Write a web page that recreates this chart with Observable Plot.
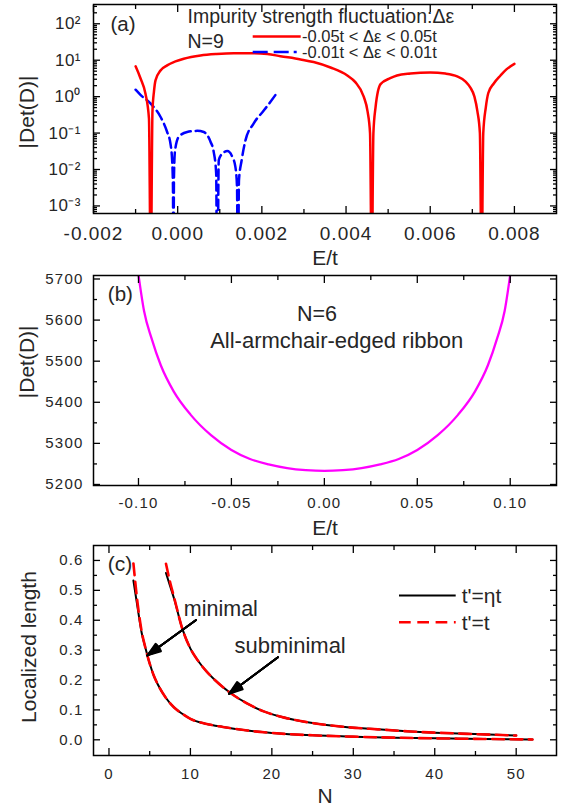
<!DOCTYPE html>
<html>
<head>
<meta charset="utf-8">
<script src="https://cdn.jsdelivr.net/npm/d3@7"></script>
<script src="https://cdn.jsdelivr.net/npm/@observablehq/plot@0.6"></script>
<style>
  body { margin: 0; background: #fff; }
  #fig { position: relative; width: 564px; height: 807px; font-family: "Liberation Sans", Arial, Helvetica, sans-serif; color: #262626; }
  .panel { position: absolute; left: 0; }
  .panel svg { overflow: visible; }
  .pa g[aria-label="x-axis tick label"] { letter-spacing: 1px; }
  .pa g[aria-label="y-axis tick label"] { letter-spacing: 0.5px; }
  .pb g[aria-label="x-axis tick label"], .pb g[aria-label="y-axis tick label"] { letter-spacing: 1.2px; }
  .pc g[aria-label="x-axis tick label"], .pc g[aria-label="y-axis tick label"] { letter-spacing: 1.1px; }
  #overlay { position: absolute; left: 0; top: 0; pointer-events: none; }
</style>
</head>
<body>
<div id="fig"></div>
<script>
// ---------------- Panel (a): |Det(D)| vs E/t, N=9 ----------------
const redE = [-0.00100, -0.000884, -0.000765, -0.000682, -0.00064, -0.000599, -0.000563, -0.000527, -0.000409, -0.00025,
  -0.000052, 0.000145, 0.000542, 0.00092, 0.00133, 0.00173, 0.00213, 0.00244, 0.00292, 0.00323,
  0.00363, 0.00403, 0.00422, 0.00442, 0.00451, 0.00457, 0.00461, 0.00465, 0.0047, 0.00482,
  0.00505, 0.00521, 0.00553, 0.006, 0.00636, 0.00664, 0.00684, 0.00695, 0.00705, 0.00712,
  0.00718, 0.00722, 0.00726, 0.00732, 0.00738, 0.00751, 0.00767, 0.00781, 0.0080];
const redDet = [6.8, 3.2, 1.2, 0.25, 1e-5, 0.4, 1.4, 2.8, 5.2, 7.2,
  9.3, 11, 13.5, 14.8, 15.5, 15.5, 14.8, 12.9, 10.5, 8.9,
  6.3, 3.8, 2.5, 1.0, 0.4, 0.1, 1e-5, 0.1, 0.5, 2.2,
  3.2, 3.8, 4.3, 4.6, 4.3, 3.6, 2.6, 1.8, 1.0, 0.4,
  0.1, 1e-5, 0.1, 0.5, 1.26, 2.3, 3.8, 5.6, 7.9];

const blueE = [-0.00100, -0.000884, -0.000646, -0.000409, -0.00025, -0.000171, -0.00013, -0.000112, -0.000102, -0.000088,
  -0.000064, 0.000026, 0.000226, 0.000463, 0.00062, 0.00078, 0.000857, 0.000914, 0.00094, 0.000976,
  0.00104, 0.0011, 0.00118, 0.0013, 0.00137, 0.00141, 0.00143, 0.001456, 0.00152, 0.00161,
  0.0018, 0.00205, 0.00232];
const blueDet = [1.55, 1.12, 0.65, 0.28, 0.107, 0.051, 0.016, 0.0032, 1e-6, 0.0063,
  0.032, 0.079, 0.107, 0.115, 0.107, 0.058, 0.030, 0.008, 1e-6, 0.018,
  0.026, 0.030, 0.032, 0.022, 0.012, 0.0033, 1e-6, 0.005, 0.018, 0.063,
  0.18, 0.42, 1.1];

const xTicksA = [-0.002, 0, 0.002, 0.004, 0.006, 0.008];
const xMinorA = [-0.001, 0.001, 0.003, 0.005, 0.007];
const yTicksA = [1e-3, 1e-2, 1e-1, 1, 10, 100];
const yTickLabelsA = ["10\u207B\u00B3", "10\u207B\u00B2", "10\u207B\u00B9", "10\u2070", "10\u00B9", "10\u00B2"];
const yDomainA = [6.2e-4, 338];
const yMinorA = [1e-4, 1e-3, 1e-2, 1e-1, 1, 10, 100]
  .flatMap(d => [2, 3, 4, 5, 6, 7, 8, 9].map(k => k * d))
  .filter(v => v > yDomainA[0] && v < yDomainA[1]);

// ---------------- Panel (b): |Det(D)| vs E/t, N=6 armchair ----------------
const ribbonE = [-0.1, -0.097, -0.093, -0.088, -0.081, -0.072, -0.061, -0.05, -0.04, -0.03, -0.02, -0.01, 0,
  0.01, 0.02, 0.03, 0.04, 0.05, 0.061, 0.072, 0.081, 0.088, 0.093, 0.097, 0.1];
const ribbonDet = [5710, 5622, 5556, 5490, 5426, 5370, 5320, 5284, 5262, 5249, 5240, 5235, 5233,
  5235, 5240, 5249, 5262, 5284, 5320, 5370, 5426, 5490, 5556, 5622, 5710];
const xTicksB = [-0.1, -0.05, 0, 0.05, 0.1];
const xMinorB = [-0.075, -0.025, 0.025, 0.075];
const yTicksB = [5200, 5300, 5400, 5500, 5600, 5700];
const yMinorB = [5250, 5350, 5450, 5550, 5650];

// ---------------- Panel (c): localized length vs N ----------------
const minimalN = [3, 3.5, 4, 4.5, 5, 5.5, 6, 7, 8, 9, 10, 12, 14, 17, 20, 25, 30, 35, 40, 46, 52];
const minimalEta = [0.533, 0.445, 0.36, 0.305, 0.255, 0.215, 0.185, 0.14, 0.108, 0.087, 0.07, 0.053, 0.043, 0.031, 0.023, 0.015, 0.0105, 0.0072, 0.0048, 0.0028, 0.0012];
const minimalT = [0.59, 0.46, 0.365, 0.305, 0.255, 0.215, 0.185, 0.14, 0.108, 0.087, 0.07, 0.053, 0.043, 0.031, 0.023, 0.015, 0.0105, 0.0072, 0.0048, 0.0028, 0.0012];
const subminN = [7, 7.5, 8, 9, 10, 11, 12, 13, 15, 17, 19, 21, 25, 29, 33, 37, 40, 44, 50];
const subminEta = [0.558, 0.515, 0.472, 0.372, 0.305, 0.262, 0.228, 0.2, 0.155, 0.121, 0.095, 0.078, 0.056, 0.043, 0.035, 0.028, 0.024, 0.020, 0.0144];
const subminT = [0.589, 0.528, 0.476, 0.372, 0.305, 0.262, 0.228, 0.2, 0.155, 0.121, 0.095, 0.078, 0.056, 0.043, 0.035, 0.028, 0.024, 0.020, 0.0144];
const xTicksC = [0, 10, 20, 30, 40, 50];
const xMinorC = [5, 15, 25, 35, 45];
const yTicksC = [0, 0.1, 0.2, 0.3, 0.4, 0.5, 0.6];
const yMinorC = [0.05, 0.15, 0.25, 0.35, 0.45, 0.55];
// annotation arrows: from label toward curve point (data units)
const arrowsC = [
  {N1: 10.7, L1: 0.401, N2: 4.7, L2: 0.282},
  {N1: 20.75, L1: 0.276, N2: 14.74, L2: 0.154}
];

// ---------------- helpers ----------------
const FONT = '"Liberation Sans", Arial, Helvetica, sans-serif';
const TXT = "#262626";
const rows = (xs, ys, kx, ky) => xs.map((v, i) => ({[kx]: v, [ky]: ys[i]}));

function frameTicks(xMajor, xMinor, yMajor, yMinor) {
  const t = {stroke: "black", strokeWidth: 1.3, fill: "none", label: null};
  const M = 7, m = 4;
  return [
    Plot.axisX({...t, ticks: xMajor, anchor: "bottom", tickSize: -M}),
    Plot.axisX({...t, ticks: xMinor, anchor: "bottom", tickSize: -m}),
    Plot.axisX({...t, ticks: xMajor, anchor: "top", tickSize: -M}),
    Plot.axisX({...t, ticks: xMinor, anchor: "top", tickSize: -m}),
    Plot.axisY({...t, ticks: yMajor, anchor: "left", tickSize: -M}),
    Plot.axisY({...t, ticks: yMinor, anchor: "left", tickSize: -m}),
    Plot.axisY({...t, ticks: yMajor, anchor: "right", tickSize: -M}),
    Plot.axisY({...t, ticks: yMinor, anchor: "right", tickSize: -m})
  ];
}
const label = (s, o) => Plot.text([s], {text: d => d, fill: TXT, lineAnchor: "middle", textAnchor: "middle", ...o});

const fig = document.getElementById("fig");
function place(svg, top) {
  const div = document.createElement("div");
  div.className = "panel";
  div.style.top = top + "px";
  div.appendChild(svg);
  fig.appendChild(div);
}

// ---------------- Panel (a) ----------------
const pa = Plot.plot({
  width: 564, height: 270,
  marginTop: 4, marginBottom: 57, marginLeft: 93, marginRight: 8,
  className: "pa",
  style: {fontFamily: FONT, color: TXT, background: "transparent", overflow: "visible"},
  x: {domain: [-0.002, 0.009]},
  y: {type: "log", domain: yDomainA},
  marks: [
    Plot.line(rows(blueE, blueDet, "E", "D"), {x: "E", y: "D", stroke: "#0000ff", strokeWidth: 2.5, strokeDasharray: "10,5", curve: "monotone-x", clip: true}),
    Plot.line(rows(redE, redDet, "E", "D"), {x: "E", y: "D", stroke: "#ff0000", strokeWidth: 2.5, curve: "monotone-x", clip: true}),
    Plot.frame({stroke: "black", strokeWidth: 1.5}),
    ...frameTicks(xTicksA, xMinorA, yTicksA, yMinorA),
    Plot.axisX({ticks: xTicksA, anchor: "bottom", tickSize: 0, tickPadding: 13, tickFormat: d => d.toFixed(3), fontSize: 19, label: null}),
    Plot.axisY({ticks: yTicksA, anchor: "left", tickSize: 0, tickPadding: 12.5, tickFormat: d => yTickLabelsA[yTicksA.indexOf(d)], fontSize: 17, label: null}),
    label("|Det(D)|", {frameAnchor: "left", dx: -66, dy: 3, rotate: -90, fontSize: 21}),
    label("E/t", {frameAnchor: "bottom", dy: 45, fontSize: 21}),
    label("(a)", {frameAnchor: "top-left", textAnchor: "start", dx: 17, dy: 20, fontSize: 20.5}),
    label("Impurity strength fluctuation:\u0394\u03B5", {frameAnchor: "top-left", textAnchor: "start", dx: 94, dy: 12.7, fontSize: 19.5}),
    label("N=9", {frameAnchor: "top-left", textAnchor: "start", dx: 94, dy: 37.7, fontSize: 19.5})
  ]
});
place(pa, 0);

// ---------------- Panel (b) ----------------
const pb = Plot.plot({
  width: 564, height: 270,
  marginTop: 5, marginBottom: 55, marginLeft: 93, marginRight: 8,
  className: "pb",
  style: {fontFamily: FONT, color: TXT, background: "transparent", overflow: "visible"},
  x: {domain: [-0.1242, 0.1249]},
  y: {domain: [5197.5, 5708.5]},
  marks: [
    Plot.line(rows(ribbonE, ribbonDet, "E", "D"), {x: "E", y: "D", stroke: "#ff00ff", strokeWidth: 2.3, curve: "monotone-x", clip: true}),
    Plot.frame({stroke: "black", strokeWidth: 1.5}),
    ...frameTicks(xTicksB, xMinorB, yTicksB, yMinorB),
    Plot.axisX({ticks: xTicksB, anchor: "bottom", tickSize: 0, tickPadding: 11.5, tickFormat: d => d.toFixed(2), fontSize: 15, label: null}),
    Plot.axisY({ticks: yTicksB, anchor: "left", tickSize: 0, tickPadding: 10, tickFormat: d => String(d), fontSize: 15, label: null}),
    label("|Det(D)|", {frameAnchor: "left", dx: -66.3, dy: -18.7, rotate: -90, fontSize: 21}),
    label("E/t", {frameAnchor: "bottom", dy: 43, fontSize: 21}),
    label("(b)", {frameAnchor: "top-left", textAnchor: "start", dx: 14.3, dy: 19.3, fontSize: 20.5}),
    label("N=6", {frameAnchor: "top", dx: -8, dy: 38.3, fontSize: 21.5}),
    label("All-armchair-edged ribbon", {frameAnchor: "top", dx: 11.7, dy: 65, fontSize: 22})
  ]
});
place(pb, 270);

// ---------------- Panel (c) ----------------
const headAngles = [6, 14, 22, 30, 38];
const pc = Plot.plot({
  width: 564, height: 267,
  marginTop: 5, marginBottom: 52, marginLeft: 93, marginRight: 8,
  className: "pc",
  style: {fontFamily: FONT, color: TXT, background: "transparent", overflow: "visible"},
  x: {domain: [-1.9, 54.95]},
  y: {domain: [-0.0525, 0.65]},
  marks: [
    Plot.line(rows(minimalN, minimalEta, "N", "L"), {x: "N", y: "L", stroke: "black", strokeWidth: 2, curve: "monotone-x", clip: true}),
    Plot.line(rows(subminN, subminEta, "N", "L"), {x: "N", y: "L", stroke: "black", strokeWidth: 2, curve: "monotone-x", clip: true}),
    Plot.line(rows(minimalN, minimalT, "N", "L"), {x: "N", y: "L", stroke: "#ff0000", strokeWidth: 2.6, strokeDasharray: "11.7,6.6", curve: "monotone-x", clip: true}),
    Plot.line(rows(subminN, subminT, "N", "L"), {x: "N", y: "L", stroke: "#ff0000", strokeWidth: 2.6, strokeDasharray: "11.7,6.6", curve: "monotone-x", clip: true}),
    ...headAngles.map(a => Plot.arrow(arrowsC, {x1: "N1", y1: "L1", x2: "N2", y2: "L2", stroke: "black", strokeWidth: 1.8, headLength: 12, headAngle: a})),
    Plot.frame({stroke: "black", strokeWidth: 1.5}),
    ...frameTicks(xTicksC, xMinorC, yTicksC, yMinorC),
    Plot.axisX({ticks: xTicksC, anchor: "bottom", tickSize: 0, tickPadding: 12.6, tickFormat: d => String(d), fontSize: 15, label: null}),
    Plot.axisY({ticks: yTicksC, anchor: "left", tickSize: 0, tickPadding: 10, tickFormat: d => d.toFixed(1), fontSize: 15, label: null}),
    label("Localized length", {frameAnchor: "left", dx: -64, dy: -3.5, rotate: -90, fontSize: 21}),
    label("N", {frameAnchor: "bottom", dy: 40.7, fontSize: 21}),
    label("(c)", {frameAnchor: "top-left", textAnchor: "start", dx: 14.3, dy: 18.3, fontSize: 21}),
    label("minimal", {frameAnchor: "top-left", textAnchor: "start", dx: 90.3, dy: 63.3, fontSize: 21.5}),
    label("subminimal", {frameAnchor: "top-left", textAnchor: "start", dx: 141, dy: 100, fontSize: 22})
  ]
});
place(pc, 540);

// ---------------- Legends (overlay) ----------------
const legendA = [
  {text: "-0.05t < \u0394\u03B5 < 0.05t", color: "#ff0000", dash: null, width: 2.5},
  {text: "-0.01t < \u0394\u03B5 < 0.01t", color: "#0000ff", dash: "15,6,15,5,3,6", width: 2.5}
];
const legendC = [
  {text: "t'=\u03B7t", color: "black", dash: null, width: 2.2},
  {text: "t'=t", color: "#ff0000", dash: "11.7,6.6", width: 2.6}
];
const ov = d3.select("#fig").append("svg").attr("id", "overlay").attr("width", 564).attr("height", 807)
  .style("font-family", FONT);
function drawLegend(items, x0, x1, tx, ys, fs) {
  items.forEach((it, i) => {
    ov.append("line").attr("x1", x0).attr("x2", x1).attr("y1", ys[i]).attr("y2", ys[i])
      .attr("stroke", it.color).attr("stroke-width", it.width).attr("stroke-dasharray", it.dash);
    ov.append("text").attr("x", tx).attr("y", ys[i]).attr("dy", "0.35em")
      .attr("font-size", fs).attr("fill", TXT).text(it.text);
  });
}
drawLegend(legendA, 252.7, 300.7, 302, [36.4, 52.0], 16.5);
drawLegend(legendC, 399, 455.7, 461.7, [595.5, 622.3], 21);
</script>
</body>
</html>
